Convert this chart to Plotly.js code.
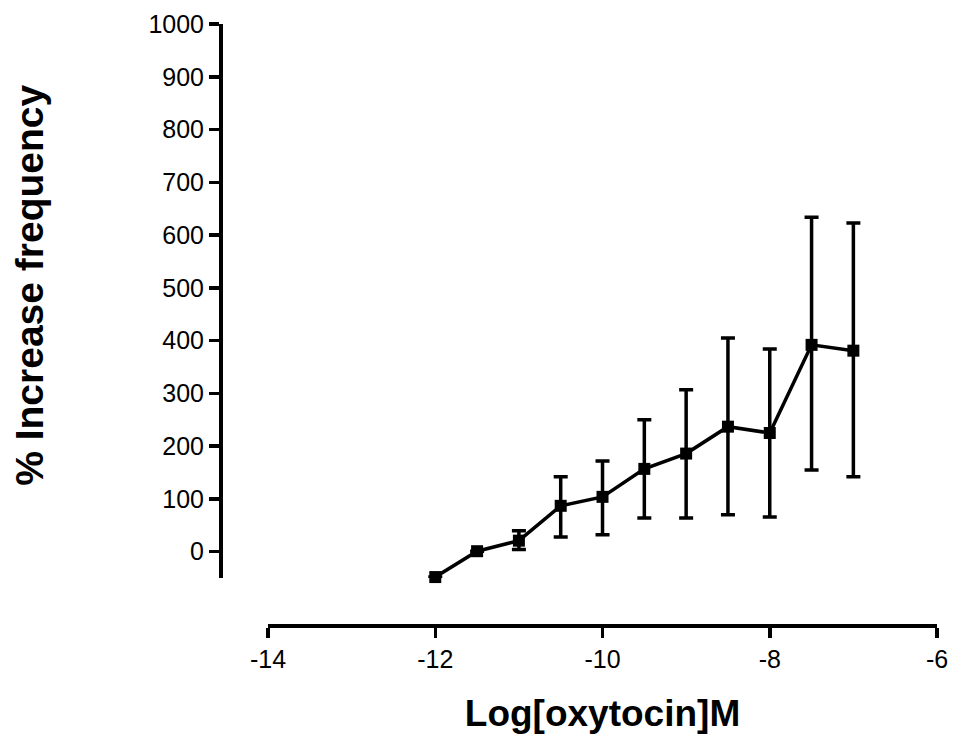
<!DOCTYPE html>
<html>
<head>
<meta charset="utf-8">
<script src="https://cdn.plot.ly/plotly-3.0.1.min.js"></script>
<style>html,body{margin:0;padding:0;background:#fff;}#chart{width:953px;height:742px;}</style>
</head>
<body>
<div id="chart"></div>
<script>
const logConc = [-12, -11.5, -11, -10.5, -10, -9.5, -9, -8.5, -8, -7.5, -7];
const meanIncrease = [-48, 1, 21, 87, 104, 157, 186, 237, 225, 392, 381];
const errUpper = [0, 0, 19, 55, 68, 93, 121, 168, 159, 242, 242];
const errLower = [0, 0, 17, 59, 72, 93, 122, 167, 159, 237, 239];
const xTickVals = [-14, -12, -10, -8, -6];
const xTickText = ['-14', '-12', '-10', '-8', '-6'];
const xTitle = 'Log[oxytocin]M';
const yTitle = '% Increase frequency';

const font = "Liberation Sans, Arial, sans-serif";

const trace = {
  x: logConc,
  y: meanIncrease,
  type: 'scatter',
  mode: 'lines+markers',
  line: {color: '#000', width: 3.5},
  marker: {symbol: 'square', size: 12, color: '#000'},
  error_y: {type: 'data', symmetric: false, array: errUpper, arrayminus: errLower,
            color: '#000', thickness: 3.5, width: 7},
  cliponaxis: false,
  showlegend: false
};

const layout = {
  width: 953, height: 742,
  margin: {l: 220, r: 16, t: 24, b: 117},
  paper_bgcolor: '#fff', plot_bgcolor: '#fff',
  xaxis: {
    range: [-14, -6], domain: [0.067, 1],
    anchor: 'free', position: 0,
    showgrid: false, zeroline: false,
    showline: true, linecolor: '#000', linewidth: 3.5,
    ticks: 'outside', ticklen: 10, tickwidth: 3.5, tickcolor: '#000',
    tickvals: xTickVals, ticktext: xTickText,
    tickfont: {family: font, size: 25, color: '#000'},
    title: {text: xTitle, font: {family: font, size: 37, color: '#000', weight: 'bold'}, standoff: 28}
  },
  yaxis: {
    range: [-50, 1000], domain: [0.078, 1],
    anchor: 'free', position: 0,
    showgrid: false, zeroline: false,
    showline: true, linecolor: '#000', linewidth: 3.5,
    ticks: 'outside', ticklen: 10, tickwidth: 3.5, tickcolor: '#000',
    tick0: 0, dtick: 100,
    tickfont: {family: font, size: 25, color: '#000'},
    title: {text: ''}
  },
  annotations: [{
    text: yTitle, xref: 'paper', yref: 'paper',
    x: -0.265, y: 0.566, xanchor: 'center', yanchor: 'middle',
    textangle: -90, showarrow: false,
    font: {family: font, size: 39, color: '#000', weight: 'bold'}
  }]
};

Plotly.newPlot('chart', [trace], layout, {displayModeBar: false, staticPlot: true});
</script>
</body>
</html>
